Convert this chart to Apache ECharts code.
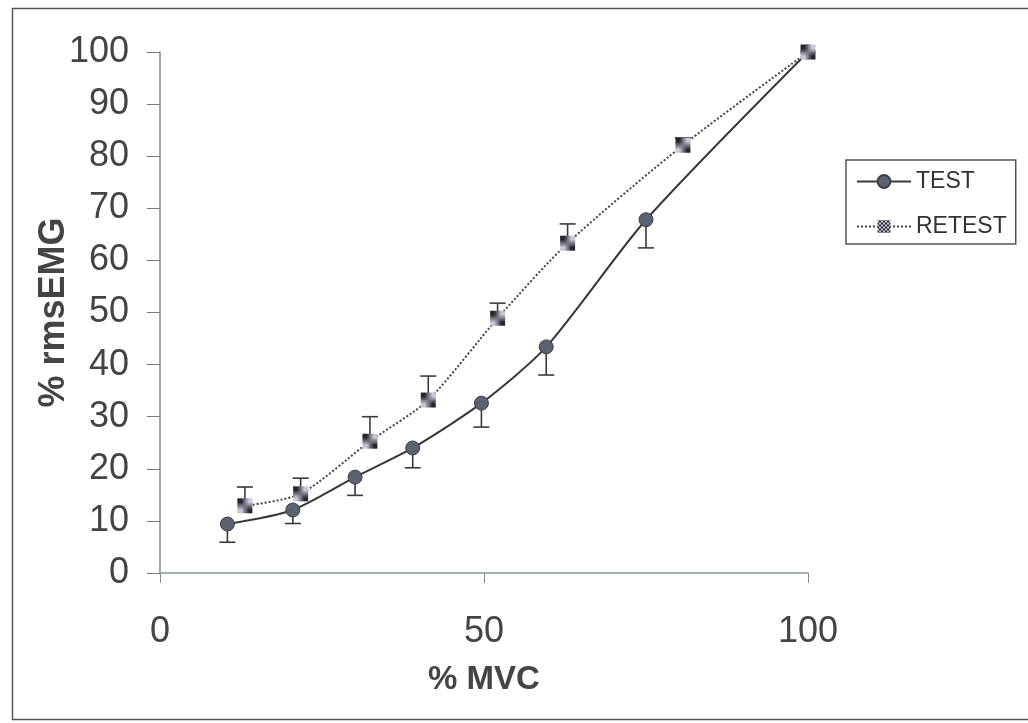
<!DOCTYPE html>
<html>
<head>
<meta charset="utf-8">
<script src="https://cdn.jsdelivr.net/npm/echarts@6/dist/echarts.min.js"></script>
<style>
html,body{margin:0;padding:0;background:#fff;}
#chart{width:1028px;height:723px;}
</style>
</head>
<body>
<div id="chart"></div>
<script>
// ---- data ----
const seriesNames = ['TEST', 'RETEST'];
const testX = [10.4, 20.5, 30.1, 39.0, 49.6, 59.6, 75.0, 100];
const testY = [9.4, 12.1, 18.4, 24.0, 32.6, 43.4, 67.8, 100];
const testSdLow = [3.5, 2.6, 3.5, 3.8, 4.6, 5.4, 5.4, 0];
const retestX = [13.1, 21.7, 32.4, 41.4, 52.1, 62.9, 80.7, 100];
const retestY = [12.9, 15.2, 25.3, 33.2, 48.9, 63.3, 82.1, 100];
const retestSdHigh = [3.6, 3.0, 4.7, 4.6, 2.9, 3.7, 1.4, 0];
const xTicks = [0, 50, 100];
const yTicks = [0, 10, 20, 30, 40, 50, 60, 70, 80, 90, 100];

// checkered pattern for RETEST markers
function checker() {
  const c = document.createElement('canvas');
  c.width = 4; c.height = 4;
  const g = c.getContext('2d');
  g.fillStyle = '#c8c8d8'; g.fillRect(0, 0, 4, 4);
  g.fillStyle = '#26262e';
  g.fillRect(0, 0, 2, 2); g.fillRect(2, 2, 2, 2);
  return c;
}
const pattern = { image: checker(), repeat: 'repeat' };

const testData = testX.map((x, i) => [x, testY[i]]);
const retestData = retestX.map((x, i) => [x, retestY[i]]);
const testErr = testX.map((x, i) => [x, testY[i], testY[i] - testSdLow[i]]);
const retestErr = retestX.map((x, i) => [x, retestY[i], retestY[i] + retestSdHigh[i]]);

function errRender(params, api) {
  if (api.value(1) === api.value(2)) return null;
  const p0 = api.coord([api.value(0), api.value(1)]);
  const p1 = api.coord([api.value(0), api.value(2)]);
  const hw = 8;
  const st = { stroke: '#3a3a3a', lineWidth: 1.6 };
  return {
    type: 'group',
    children: [
      { type: 'line', shape: { x1: p0[0], y1: p0[1], x2: p1[0], y2: p1[1] }, style: st },
      { type: 'line', shape: { x1: p1[0] - hw, y1: p1[1], x2: p1[0] + hw, y2: p1[1] }, style: st }
    ]
  };
}

const chart = echarts.init(document.getElementById('chart'));
const font = 'Liberation Sans, Arial, sans-serif';
chart.setOption({
  backgroundColor: '#ffffff',
  animation: false,
  textStyle: { fontFamily: font },
  graphic: [{
    type: 'rect', left: 10, top: 6, silent: true,
    shape: { width: 1030, height: 711 },
    style: { fill: 'none', stroke: '#555', lineWidth: 1.5 }
  }],
  grid: { left: 160, right: 220, top: 52, bottom: 150 },
  legend: {
    orient: 'vertical', left: 846, top: 160,
    data: seriesNames,
    itemWidth: 54, itemHeight: 16, itemGap: 22,
    padding: [10, 9, 6, 10],
    borderColor: '#555', borderWidth: 1.5,
    textStyle: { fontSize: 23, color: '#333', fontFamily: font }
  },
  xAxis: {
    type: 'value', min: 0, max: 100, interval: 50,
    name: '% MVC', nameLocation: 'middle', nameGap: 90, nameMoveOverlap: false,
    nameTextStyle: { fontSize: 33, fontWeight: 'bold', color: '#444', fontFamily: font },
    axisLine: { show: true, lineStyle: { color: '#8a9890', width: 1.5 } },
    axisTick: { show: true, length: 10, lineStyle: { color: '#8a8a8a' } },
    axisLabel: { fontSize: 36, color: '#444', margin: 41, fontFamily: font,
      formatter: v => xTicks.includes(v) ? String(v) : '' },
    splitLine: { show: false }
  },
  yAxis: {
    type: 'value', min: 0, max: 100, interval: 10,
    name: '% rmsEMG', nameLocation: 'middle', nameGap: 88, nameMoveOverlap: false,
    nameTextStyle: { fontSize: 36, fontWeight: 'bold', color: '#444', fontFamily: font },
    axisLine: { show: true, lineStyle: { color: '#8a8a8a', width: 1.5 } },
    axisTick: { show: true, length: 13, lineStyle: { color: '#777' } },
    axisLabel: { fontSize: 36, color: '#444', margin: 31, fontFamily: font,
      formatter: v => yTicks.includes(v) ? String(v) : '' },
    splitLine: { show: false }
  },
  series: [
    { type: 'custom', renderItem: errRender, data: testErr, z: 2, silent: true,
      encode: { x: 0, y: [1, 2] } },
    { type: 'custom', renderItem: errRender, data: retestErr, z: 2, silent: true,
      encode: { x: 0, y: [1, 2] } },
    {
      name: 'TEST', type: 'line', data: testData, smooth: 0.25, z: 3,
      symbol: 'circle', symbolSize: 14,
      lineStyle: { color: '#383838', width: 2 },
      itemStyle: { color: '#5a6270', borderColor: '#3a404a', borderWidth: 1 }
    },
    {
      name: 'RETEST', type: 'line', data: retestData, smooth: 0.25, z: 3,
      symbol: 'rect', symbolSize: 15,
      lineStyle: { color: '#444', width: 2, type: 'dotted' },
      itemStyle: { color: pattern, borderWidth: 0 }
    }
  ]
});
</script>
</body>
</html>
